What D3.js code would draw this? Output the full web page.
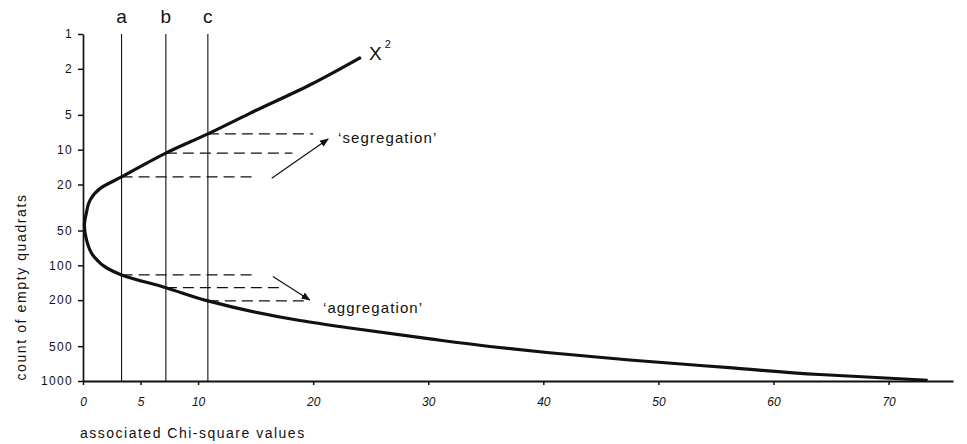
<!DOCTYPE html>
<html>
<head>
<meta charset="utf-8">
<script src="https://cdn.jsdelivr.net/npm/d3@7"></script>
<style>
  html, body { margin: 0; padding: 0; background: #fff; }
  svg { display: block; font-family: "Liberation Sans", Arial, sans-serif; }
  .axis path, .axis line { stroke: #111; }
  .axis text { fill: #111; }
</style>
</head>
<body>
<svg id="chart" width="967" height="444"></svg>
<script>
// chi-square curve (upper branch -> lower branch)
const curveChi = [24.15, 19.7, 14.5, 10.85, 7.2, 3.35, 1.5, 0.62, 0.3, 0.12, 0.3, 0.95, 2.1, 3.35, 7.2, 10.85, 18.85, 23.2, 30.15, 35.35, 40.3, 47.5, 56.45, 64, 73.4];
const curveCount = [1.59, 2.76, 4.85, 7.3, 10.7, 17.2, 21.6, 27.2, 35, 45, 60, 84, 106, 121, 156, 203, 300, 348, 433, 503, 567, 658, 771, 879, 985];

// critical values a, b, c
const critLabels = ['a', 'b', 'c'];
const critChi = [3.35, 7.2, 10.85];

// dashed read-offs (start on a critical line, end at chi value)
const segStart = [10.85, 7.2, 3.35];
const segCounts = [7.3, 10.7, 17.2];
const segEnd = [20, 18.2, 14.9];
const aggStart = [3.35, 7.2, 10.85];
const aggCounts = [121, 156, 203];
const aggEnd = [15.1, 17.1, 19.4];

// arrows [chi0, count0, chi1, count1]
const segArrow = [16.4, 17.7, 21.3, 8.1];
const aggArrow = [16.5, 125, 19.7, 199];

const xTicks = [0, 5, 10, 20, 30, 40, 50, 60, 70];
const yTicks = [1, 2, 5, 10, 20, 50, 100, 200, 500, 1000];

const svg = d3.select('#chart');
const ink = '#111';

const x = d3.scaleLinear().domain([0, 75.6]).range([83, 953]);
const y = d3.scaleLog().domain([1, 1000]).range([34, 381]);

svg.append('defs').append('marker')
  .attr('id', 'arrow')
  .attr('viewBox', '0 0 10 10')
  .attr('refX', 9).attr('refY', 5)
  .attr('markerWidth', 9).attr('markerHeight', 9)
  .attr('markerUnits', 'userSpaceOnUse')
  .attr('orient', 'auto')
  .append('path')
  .attr('d', 'M0,1 L10,5 L0,9 Z')
  .attr('fill', ink);

// critical vertical lines
svg.append('g').selectAll('line')
  .data(critChi)
  .join('line')
  .attr('x1', d => x(d)).attr('x2', d => x(d))
  .attr('y1', y(1)).attr('y2', y(1000))
  .attr('stroke', ink).attr('stroke-width', 1.1);

svg.append('g').selectAll('text')
  .data(critLabels)
  .join('text')
  .attr('x', (d, i) => x(critChi[i]))
  .attr('y', 23)
  .attr('text-anchor', 'middle')
  .attr('font-size', 19)
  .attr('fill', ink)
  .text(d => d);

// dashed lines
const dashG = svg.append('g')
  .attr('stroke', ink).attr('stroke-width', 1.3)
  .attr('stroke-dasharray', '11,6');
segCounts.forEach((c, i) => {
  dashG.append('line')
    .attr('x1', x(segStart[i])).attr('x2', x(segEnd[i]))
    .attr('y1', y(c)).attr('y2', y(c));
});
aggCounts.forEach((c, i) => {
  dashG.append('line')
    .attr('x1', x(aggStart[i])).attr('x2', x(aggEnd[i]))
    .attr('y1', y(c)).attr('y2', y(c));
});

// arrows
[segArrow, aggArrow].forEach(a => {
  svg.append('line')
    .attr('x1', x(a[0])).attr('y1', y(a[1]))
    .attr('x2', x(a[2])).attr('y2', y(a[3]))
    .attr('stroke', ink).attr('stroke-width', 1.2)
    .attr('marker-end', 'url(#arrow)');
});

svg.append('text')
  .attr('x', 338).attr('y', 143)
  .attr('font-size', 15).attr('letter-spacing', 1.1)
  .attr('fill', ink)
  .text('\u2018segregation\u2019');
svg.append('text')
  .attr('x', 323).attr('y', 313)
  .attr('font-size', 15).attr('letter-spacing', 1.1)
  .attr('fill', ink)
  .text('\u2018aggregation\u2019');

// axes
const xAxis = d3.axisBottom(x)
  .tickValues(xTicks)
  .tickSize(4).tickSizeOuter(0).tickPadding(12)
  .tickFormat(d3.format('d'));
const gx = svg.append('g').attr('class', 'axis')
  .attr('transform', `translate(0,${y(1000)})`)
  .call(xAxis);
gx.select('.domain').attr('stroke-width', 1.8);
gx.selectAll('.tick line').attr('stroke-width', 1.5);
gx.selectAll('text')
  .attr('font-size', 12)
  .attr('font-style', 'italic')
  .attr('font-family', '"Liberation Sans", Arial, sans-serif');

const yAxis = d3.axisLeft(y)
  .tickValues(yTicks)
  .tickSize(5).tickSizeOuter(0).tickPadding(5)
  .tickFormat(d3.format('d'));
const gy = svg.append('g').attr('class', 'axis')
  .attr('transform', `translate(${x(0)},0)`)
  .call(yAxis);
gy.select('.domain').attr('stroke-width', 1.7);
gy.selectAll('.tick line').attr('stroke-width', 1.5);
gy.selectAll('text')
  .attr('font-size', 12)
  .attr('letter-spacing', 1.3)
  .attr('font-family', '"Liberation Sans", Arial, sans-serif');

// the chi-square curve: single-valued in count, so interpolate along y
const pts = curveChi.map((c, i) => [c, curveCount[i]]);
const line = d3.line()
  .x(d => x(d[0]))
  .y(d => y(d[1]))
  .curve(d3.curveMonotoneY);
svg.append('path')
  .datum(pts)
  .attr('d', line)
  .attr('fill', 'none')
  .attr('stroke', ink)
  .attr('stroke-width', 3.2)
  .attr('stroke-linejoin', 'round');

// X^2 label
const lab = svg.append('text')
  .attr('x', 369).attr('y', 60)
  .attr('font-size', 19)
  .attr('fill', ink);
lab.append('tspan').text('X');
lab.append('tspan').attr('font-size', 11).attr('dx', 3).attr('dy', -12).text('2');

// axis titles
svg.append('text')
  .attr('x', 80).attr('y', 438)
  .attr('font-size', 14).attr('letter-spacing', 1.5)
  .attr('fill', ink)
  .text('associated Chi-square values');
svg.append('text')
  .attr('transform', 'translate(26,287) rotate(-90)')
  .attr('text-anchor', 'middle')
  .attr('font-size', 14).attr('letter-spacing', 1.6)
  .attr('fill', ink)
  .text('count of empty quadrats');
</script>
</body>
</html>
